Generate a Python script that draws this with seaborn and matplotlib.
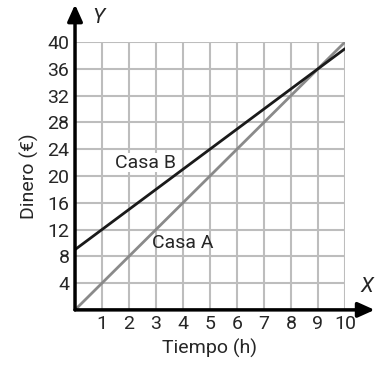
import numpy as np
import pandas as pd
import matplotlib.pyplot as plt
import seaborn as sns

# Data
horas = [0, 10]
casa_a = [0, 40]
casa_b = [9, 39]
x_ticks = [1, 2, 3, 4, 5, 6, 7, 8, 9, 10]
y_ticks = [4, 8, 12, 16, 20, 24, 28, 32, 36, 40]

df = pd.DataFrame({"Tiempo": horas + horas,
                   "Dinero": casa_a + casa_b,
                   "Casa": ["Casa A"] * 2 + ["Casa B"] * 2})

sns.set_style("white")
plt.rcParams["font.family"] = ["Liberation Sans Narrow", "Roboto", "DejaVu Sans"]

fig = plt.figure(figsize=(3.77, 3.72), dpi=100)
ax = fig.add_axes([0.199, 0.167, 0.716, 0.72])

sns.lineplot(data=df, x="Tiempo", y="Dinero", hue="Casa",
             palette={"Casa A": "#8a8a8a", "Casa B": "#1a1a1a"},
             linewidth=2, legend=False, ax=ax, zorder=3)

ax.set_xlim(0, 10)
ax.set_ylim(0, 40)
ax.set_xticks(x_ticks)
ax.set_yticks(y_ticks)
ax.set_xticklabels([str(t) for t in x_ticks], fontsize=14)
ax.set_yticklabels([str(t) for t in y_ticks], fontsize=14)
ax.tick_params(length=0, pad=4)
ax.grid(True, color="#bdbdbd", linewidth=1.5)
for s in ax.spines.values():
    s.set_visible(False)

# axes with arrows
ax.annotate("", xy=(1.11, 0), xytext=(0, 0), xycoords="axes fraction",
            arrowprops=dict(arrowstyle="-|>,head_length=1.0,head_width=0.45",
                            color="black", lw=2.5, shrinkA=0, shrinkB=0))
ax.annotate("", xy=(0, 1.14), xytext=(0, 0), xycoords="axes fraction",
            arrowprops=dict(arrowstyle="-|>,head_length=1.0,head_width=0.45",
                            color="black", lw=2.5, shrinkA=0, shrinkB=0))
ax.text(1.082, 0.086, "X", transform=ax.transAxes, fontsize=15, style="italic",
        ha="center", va="center")
ax.text(0.085, 1.09, "Y", transform=ax.transAxes, fontsize=15, style="italic",
        ha="center", va="center")

ax.text(2.6, 22, "Casa B", fontsize=14, ha="center", va="center",
        bbox=dict(facecolor="white", edgecolor="none", pad=0.5))
ax.text(4.0, 10, "Casa A", fontsize=14, ha="center", va="center")

ax.set_xlabel("Tiempo (h)", fontsize=14, labelpad=4)
ax.set_ylabel("Dinero (€)", fontsize=14, labelpad=6)

fig.savefig("out.png", dpi=100)
